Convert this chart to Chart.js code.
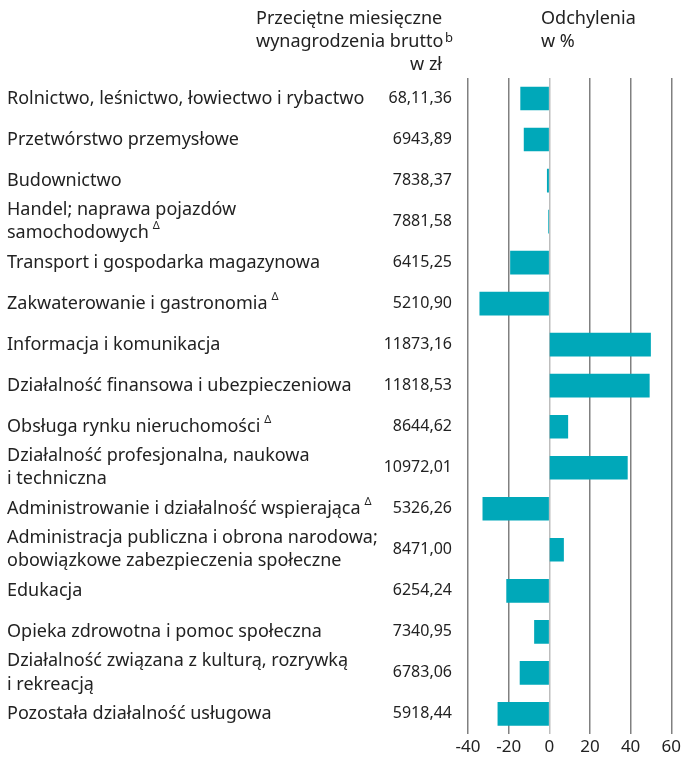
<!DOCTYPE html>
<html lang="pl">
<head>
<meta charset="utf-8">
<script src="https://cdn.jsdelivr.net/npm/chart.js@4/dist/chart.umd.min.js"></script>
<style>
  html, body { margin: 0; padding: 0; background: #fff; }
  #wrap { width: 685px; height: 760px; position: relative; }
</style>
</head>
<body>
<div id="wrap"><canvas id="chart"></canvas></div>
<script>
// sektory (etykiety wielowierszowe jako tablice)
const sectors = [
    'Rolnictwo, leśnictwo, łowiectwo i rybactwo',
    'Przetwórstwo przemysłowe',
    'Budownictwo',
    ['Handel; naprawa pojazdów', 'samochodowych'],
    'Transport i gospodarka magazynowa',
    'Zakwaterowanie i gastronomia',
    'Informacja i komunikacja',
    'Działalność finansowa i ubezpieczeniowa',
    'Obsługa rynku nieruchomości',
    ['Działalność profesjonalna, naukowa', 'i techniczna'],
    'Administrowanie i działalność wspierająca',
    ['Administracja publiczna i obrona narodowa;', 'obowiązkowe zabezpieczenia społeczne'],
    'Edukacja',
    'Opieka zdrowotna i pomoc społeczna',
    ['Działalność związana z kulturą, rozrywką', 'i rekreacją'],
    'Pozostała działalność usługowa'
];
// sektory oznaczone trójkątem
const deltaMarked = [3, 5, 8, 10];
const wages = ['68,11,36', '6943,89', '7838,37', '7881,58', '6415,25', '5210,90', '11873,16', '11818,53',
    '8644,62', '10972,01', '5326,26', '8471,00', '6254,24', '7340,95', '6783,06', '5918,44'];
const deviations = [-14.1, -12.4, -1.0, -0.4, -19.1, -34.2, 49.8, 49.2, 9.1, 38.4, -32.7, 7.0, -21.0, -7.3, -14.4, -25.3];
const xTicks = [-40, -20, 0, 20, 40, 60];

const FONT = '"Noto Sans", "Open Sans", sans-serif';
const TXT = '#222';
const NAME_SIZE = 18;
const NAME_LH = 1.28;

const headerPlugin = {
    id: 'headers',
    afterDraw(chart) {
        const ctx = chart.ctx;
        ctx.save();
        ctx.fillStyle = TXT;
        ctx.textBaseline = 'middle';
        ctx.font = '18px ' + FONT;
        ctx.textAlign = 'left';
        ctx.fillText('Przeciętne miesięczne', 256, 19);
        ctx.fillText('wynagrodzenia brutto', 256, 42);
        ctx.textAlign = 'right';
        ctx.fillText('w zł', 442, 65);
        ctx.textAlign = 'left';
        ctx.fillText('Odchylenia', 541, 19);
        ctx.fillText('w %', 541, 42);
        ctx.font = '13px ' + FONT;
        ctx.fillText('b', 445, 38);

        // trójkąty przy nazwach sektorów
        const ys = chart.scales.names;
        const lh = NAME_SIZE * NAME_LH;
        deltaMarked.forEach(i => {
            const lab = sectors[i];
            const lines = Array.isArray(lab) ? lab : [lab];
            const last = lines[lines.length - 1];
            ctx.font = NAME_SIZE + 'px ' + FONT;
            const w = ctx.measureText(last).width;
            const y = ys.getPixelForTick(i) + (lines.length - 1) / 2 * lh;
            ctx.font = '11px ' + FONT;
            ctx.fillText('Δ', ys.left + w + 4, y - 7);
        });
        ctx.restore();
    }
};

new Chart(document.getElementById('chart'), {
    type: 'bar',
    data: {
        labels: sectors,
        datasets: [{
            data: deviations,
            backgroundColor: '#00a8b9',
            borderWidth: 0,
            barThickness: 23,
            yAxisID: 'y'
        }]
    },
    options: {
        indexAxis: 'y',
        responsive: true,
        maintainAspectRatio: false,
        animation: false,
        layout: { padding: { left: 7, right: 5, top: 78, bottom: 0 } },
        plugins: {
            legend: { display: false },
            tooltip: { enabled: false }
        },
        scales: {
            x: {
                min: -40,
                max: 60,
                afterBuildTicks: (scale) => { scale.ticks = xTicks.map(v => ({ value: v })); },
                grid: {
                    drawTicks: false,
                    lineWidth: 1.5,
                    color: (c) => c.tick && c.tick.value === 0 ? '#bdbdbd' : '#808080'
                },
                border: { display: false },
                ticks: {
                    color: TXT,
                    font: { family: FONT, size: 17, lineHeight: 1.0 },
                    padding: 4
                }
            },
            y: {
                position: 'left',
                weight: 0,
                offset: true,
                grid: { display: false, drawTicks: false },
                border: { display: false },
                ticks: {
                    autoSkip: false,
                    crossAlign: 'near',
                    padding: 16,
                    color: TXT,
                    font: { family: FONT, size: 16 },
                    callback: (v, i) => wages[i]
                },
                afterFit: (scale) => { scale.width = 90; }
            },
            names: {
                type: 'category',
                axis: 'y',
                position: 'left',
                weight: 1,
                offset: true,
                labels: sectors,
                grid: { display: false, drawTicks: false },
                border: { display: false },
                ticks: {
                    autoSkip: false,
                    crossAlign: 'far',
                    padding: 0,
                    color: TXT,
                    font: { family: FONT, size: NAME_SIZE, lineHeight: NAME_LH }
                },
                afterFit: (scale) => { scale.width = 371; }
            }
        }
    },
    plugins: [headerPlugin]
});
</script>
</body>
</html>
